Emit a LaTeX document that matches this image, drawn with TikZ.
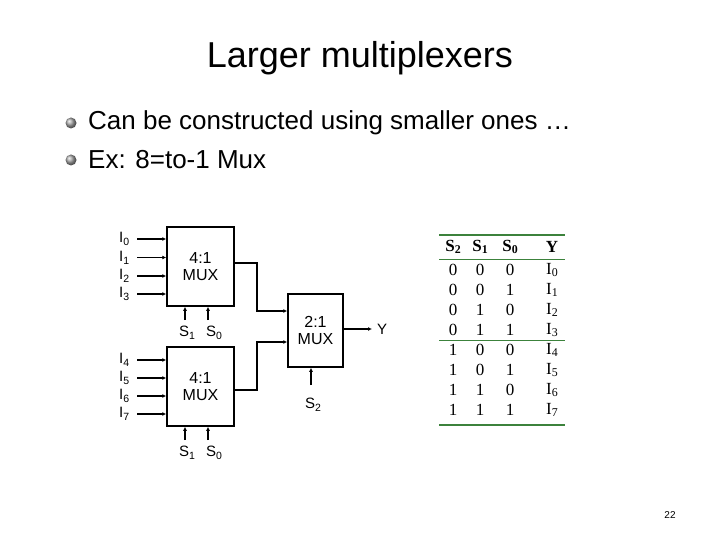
\documentclass[tikz,border=0pt]{standalone}
\usepackage{fontspec}
\setmainfont{Liberation Sans}
\newfontfamily\tabfont{Liberation Serif}
\usetikzlibrary{arrows.meta}
\newcommand\sbx[1]{\raisebox{-0.35ex}{\scalebox{0.7}{#1}}}
\begin{document}
\begin{tikzpicture}[x=1pt,y=-1pt,
  wire/.style={line width=1.3pt},
  arr/.style={line width=1.3pt,-{Latex[length=4pt,width=4pt]}},
  mux/.style={draw,line width=1.5pt,minimum width=67pt,align=center,font=\fontsize{16}{17}\selectfont,inner sep=0pt},
  lab/.style={font=\fontsize{15}{15}\selectfont,inner sep=0pt},
  tb/.style={font=\tabfont\fontsize{17}{17}\selectfont,inner sep=0pt},
  bul/.style={circle,inner sep=0pt,minimum size=11pt,ball color=gray!70}]
\useasboundingbox (0,0) rectangle (720,540);
\node[font=\fontsize{36}{36}\selectfont] (title) at (360,58) {Larger multiplexers};
\node[bul] (b1) at (71,123) {};
\node[bul] (b2) at (71,160) {};
\node[anchor=west,font=\fontsize{26}{26}\selectfont,inner sep=0pt] (t1) at (88,123) {Can be constructed using smaller ones \ldots};
\node[anchor=west,font=\fontsize{26}{26}\selectfont,inner sep=0pt] (t2) at (88,160) {Ex: 8=to-1 Mux};
% muxes
\node[mux,minimum height=79pt] (m1) at (200.5,266.5) {4:1\\MUX};
\node[mux,minimum height=79pt] (m2) at (200.5,386.5) {4:1\\MUX};
\node[mux,minimum width=55pt,minimum height=73pt] (m3) at (315.5,330.5) {2:1\\MUX};
\foreach \y/\i in {239/0,257.5/1,276/2,294/3}{
  \coordinate (a\i) at (137,\y);
  \node[lab,anchor=west] (l\i) at (119,\y) {I\sbx{\i}};
  \draw[arr] (a\i) -- (m1.west |- a\i);}
\foreach \y/\i in {360/4,378/5,396/6,414/7}{
  \coordinate (a\i) at (137,\y);
  \node[lab,anchor=west] (l\i) at (119,\y) {I\sbx{\i}};
  \draw[arr] (a\i) -- (m2.west |- a\i);}
\foreach \m/\yy in {m1/320,m2/440}{
  \coordinate (\m s1) at (185,\yy); \coordinate (\m s0) at (208,\yy);
  \draw[arr] (\m s1) -- (\m.south -| \m s1);
  \draw[arr] (\m s0) -- (\m.south -| \m s0);
  \node[lab] (\m ls1) at (187,\yy+13) {S\sbx{1}};
  \node[lab] (\m ls0) at (214,\yy+13) {S\sbx{0}};}
\coordinate (o1) at (234,263); \coordinate (o2) at (234,390);
\draw[arr] (m1.east |- o1) -- (257,263) -- (257,311) -- (m3.west |- 0,311);
\draw[arr] (m2.east |- o2) -- (257,390) -- (257,342) -- (m3.west |- 0,342);
\coordinate (ys) at (372,329);
\draw[arr] (m3.east |- ys) -- (ys);
\node[lab,anchor=west] (yl) at (377,329) {Y};
\coordinate (s2) at (311,385);
\draw[arr] (s2) -- (m3.south -| s2);
\node[lab] (s2l) at (313,405) {S\sbx{2}};
% table
\definecolor{rule}{RGB}{60,130,60}
\draw[rule,line width=1.3pt] (439,235) -- (565,235);
\draw[rule,line width=0.8pt] (439,259) -- (565,259);
\draw[rule,line width=0.8pt] (439,340) -- (565,340);
\draw[rule,line width=1.3pt] (439,425) -- (565,425);
\node[tb] (h1) at (453,247) {\textbf{S\sbx{2}}};
\node[tb] (h2) at (480,247) {\textbf{S\sbx{1}}};
\node[tb] (h3) at (510,247) {\textbf{S\sbx{0}}};
\node[tb] (h4) at (552,247) {\textbf{Y}};
\foreach \r/\a/\b/\c in {0/0/0/0,1/0/0/1,2/0/1/0,3/0/1/1,4/1/0/0,5/1/0/1,6/1/1/0,7/1/1/1}{
  \pgfmathsetmacro\yy{270+20*\r}
  \node[tb] (ra\r) at (453,\yy) {\a};
  \node[tb] (rb\r) at (480,\yy) {\b};
  \node[tb] (rc\r) at (510,\yy) {\c};
  \node[tb] (rd\r) at (552,\yy) {I\sbx{\r}};}
\node[font=\fontsize{10}{10}\selectfont] (pg) at (670,515) {22};
\end{tikzpicture}
\end{document}
